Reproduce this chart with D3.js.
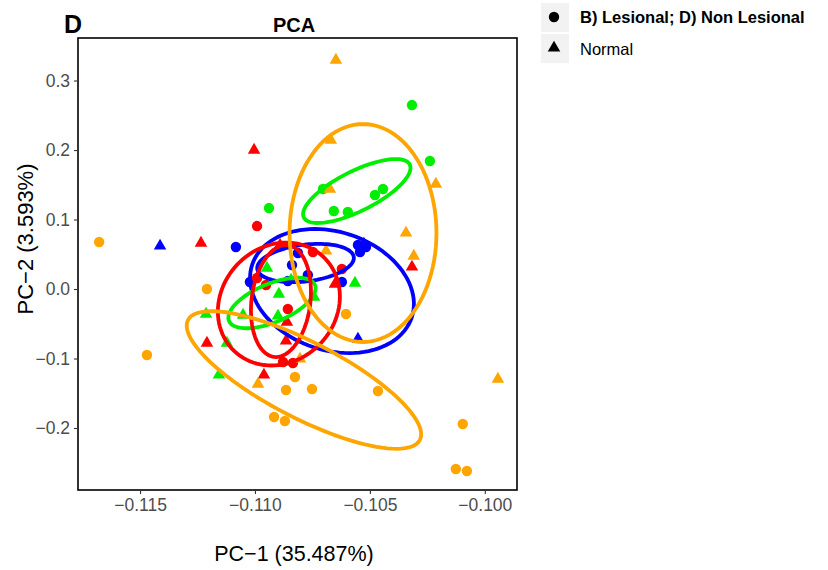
<!DOCTYPE html>
<html>
<head>
<meta charset="utf-8">
<script src="https://cdn.jsdelivr.net/npm/d3@7"></script>
<style>
  html, body { margin: 0; padding: 0; background: #fff; }
  svg { display: block; font-family: "Liberation Sans", Arial, Helvetica, sans-serif; }
</style>
</head>
<body>
<svg id="chart" width="828" height="570"></svg>
<script>
// ---- Data ----
const xTicks = [-0.115, -0.110, -0.105, -0.100];
const yTicks = [-0.2, -0.1, 0.0, 0.1, 0.2, 0.3];
const xTitle = "PC\u22121 (35.487%)";
const yTitle = "PC\u22122 (3.593%)";
const legendLabels = ["B) Lesional; D) Non Lesional", "Normal"];

const groupNames  = ["blue", "green", "red", "orange"];
const groupColors = ["#0000FF", "#00EE00", "#FF0000", "#FFA500"];

// circles = Lesional / Non Lesional ; triangles = Normal
const blueCircles = [[-0.11083,0.0604],[-0.11022,0.0101],[-0.10552,0.0633],[-0.10543,0.0532],[-0.10517,0.0604],[-0.10622,0.0101],[-0.10770,0.0201],[-0.10857,0.0115],[-0.10813,0.0518],[-0.10839,0.0345]];
const blueTriangles = [[-0.11413,0.0619],[-0.10552,-0.0719],[-0.10526,0.0647]];
const greenCircles = [[-0.10317,0.2647],[-0.10239,0.1842],[-0.10704,0.1439],[-0.10443,0.1439],[-0.10478,0.1353],[-0.10657,0.1122],[-0.10596,0.1108],[-0.10939,0.1165]];
const greenTriangles = [[-0.11213,-0.0360],[-0.11122,-0.0777],[-0.11157,-0.1237],[-0.11052,-0.0374],[-0.10900,-0.0388],[-0.10896,-0.0072],[-0.10948,0.0302],[-0.10565,0.0086],[-0.10743,-0.0115],[-0.10843,0.0129]];
const redCircles = [[-0.10991,0.0906],[-0.10991,0.0158],[-0.10952,0.0058],[-0.10857,-0.0288],[-0.10878,-0.1050],[-0.10835,-0.1065],[-0.10622,0.0288],[-0.10748,0.0532]];
const redTriangles = [[-0.11004,0.2000],[-0.11235,0.0662],[-0.11209,-0.0777],[-0.10961,-0.1237],[-0.10317,0.0317],[-0.10865,-0.0748],[-0.10861,-0.0475],[-0.10652,0.0072],[-0.10891,0.0633]];
const orangeCircles = [[-0.11678,0.0676],[-0.11470,-0.0950],[-0.11209,0.0000],[-0.10604,-0.0360],[-0.10826,-0.1266],[-0.10752,-0.1439],[-0.10865,-0.1453],[-0.10465,-0.1468],[-0.10917,-0.1842],[-0.10870,-0.1899],[-0.10096,-0.1942],[-0.10126,-0.2590],[-0.10078,-0.2619]];
const orangeTriangles = [[-0.10648,0.3295],[-0.10670,0.2144],[-0.10674,0.1439],[-0.10213,0.1511],[-0.10343,0.0806],[-0.10309,0.0475],[-0.10691,0.0547],[-0.10804,-0.1007],[-0.10987,-0.1367],[-0.09943,-0.1295]];

// confidence ellipses: centre + two conjugate semi-axis vectors (data units)
const ellipseGroup = ["blue","blue","green","green","red","red","orange","orange"];
const ellipseCx = [-0.10665,-0.10780,-0.10557,-0.10926,-0.10896,-0.10887,-0.10530,-0.10787];
const ellipseCy = [-0.0029, 0.0374, 0.1410,-0.0201,-0.0216,-0.0173, 0.0806,-0.1309];
const ellipseAx = [ 0.003474, 0.00210, 0.002304, 0.00187, 0.001926, 0.000300, 0.003196, 0.005043];
const ellipseAy = [-0.0377, 0.0085, 0.0381, 0.0259, 0.0682, 0.0804, 0.0, -0.0863];
const ellipseBx = [-0.000800, 0.0000957, 0.000387, 0.000322, 0.001826, 0.00127, 0.0, -0.000761];
const ellipseBy = [-0.0809,-0.0262,-0.02576,-0.0255,-0.0563,-0.0052, 0.1568,-0.0486];

// ---- Layout ----
const svg = d3.select("#chart");
const panel = {left: 78, right: 517, top: 38, bottom: 490};
const x = d3.scaleLinear().domain([-0.1177, -0.0986]).range([panel.left, panel.right]);
const y = d3.scaleLinear().domain([-0.2892, 0.3612]).range([panel.bottom, panel.top]);
const colorOf = d3.scaleOrdinal().domain(groupNames).range(groupColors);

svg.append("rect").attr("width", 828).attr("height", 570).attr("fill", "#fff");

svg.append("clipPath").attr("id", "clip").append("rect")
  .attr("x", panel.left).attr("y", panel.top)
  .attr("width", panel.right - panel.left).attr("height", panel.bottom - panel.top);

const plot = svg.append("g").attr("clip-path", "url(#clip)");

const pointSets = [
  {g: "blue", shape: "circle", pts: blueCircles},
  {g: "blue", shape: "triangle", pts: blueTriangles},
  {g: "green", shape: "circle", pts: greenCircles},
  {g: "green", shape: "triangle", pts: greenTriangles},
  {g: "red", shape: "circle", pts: redCircles},
  {g: "red", shape: "triangle", pts: redTriangles},
  {g: "orange", shape: "circle", pts: orangeCircles},
  {g: "orange", shape: "triangle", pts: orangeTriangles}
];

const circleSym = d3.symbol().type(d3.symbolCircle).size(85);
const triSym = d3.symbol().type(d3.symbolTriangle).size(68);

pointSets.forEach(set => {
  plot.append("g").selectAll("path").data(set.pts).join("path")
    .attr("d", set.shape === "circle" ? circleSym : triSym)
    .attr("transform", d => `translate(${x(d[0])},${y(d[1])})`)
    .attr("fill", colorOf(set.g));
});

// ellipses
const ts = d3.range(0, 100).map(i => i / 100 * 2 * Math.PI);
const line = d3.line().x(p => x(p[0])).y(p => y(p[1])).curve(d3.curveLinearClosed);
ellipseGroup.forEach((g, i) => {
  const pts = ts.map(t => [
    ellipseCx[i] + Math.cos(t) * ellipseAx[i] + Math.sin(t) * ellipseBx[i],
    ellipseCy[i] + Math.cos(t) * ellipseAy[i] + Math.sin(t) * ellipseBy[i]
  ]);
  plot.append("path").attr("d", line(pts))
    .attr("fill", "none").attr("stroke", colorOf(g)).attr("stroke-width", 3.8);
});

// panel border
svg.append("rect")
  .attr("x", panel.left).attr("y", panel.top)
  .attr("width", panel.right - panel.left).attr("height", panel.bottom - panel.top)
  .attr("fill", "none").attr("stroke", "#000").attr("stroke-width", 1.6);

// axes
const xAxis = svg.append("g").attr("transform", `translate(0,${panel.bottom})`)
  .call(d3.axisBottom(x).tickValues(xTicks).tickFormat(d3.format(".3f")).tickSize(4).tickPadding(5));
const yAxis = svg.append("g").attr("transform", `translate(${panel.left},0)`)
  .call(d3.axisLeft(y).tickValues(yTicks).tickFormat(d3.format(".1f")).tickSize(4).tickPadding(4));
[xAxis, yAxis].forEach(a => {
  a.select(".domain").remove();
  a.selectAll(".tick line").attr("stroke", "#333").attr("stroke-width", 1.1);
  a.selectAll(".tick text").attr("fill", "#4D4D4D").style("font-size", "17.5px")
    .style("font-family", "'Liberation Sans', Arial, sans-serif");
});

// titles
svg.append("text").attr("x", 64).attr("y", 33).text("D")
  .style("font-size", "25px").style("font-weight", "bold");
svg.append("text").attr("x", 294).attr("y", 32).attr("text-anchor", "middle").text("PCA")
  .style("font-size", "20px").style("font-weight", "bold");
svg.append("text").attr("x", 294).attr("y", 561).attr("text-anchor", "middle").text(xTitle)
  .style("font-size", "21.5px");
svg.append("text").attr("transform", "translate(33,239) rotate(-90)").attr("text-anchor", "middle").text(yTitle)
  .style("font-size", "22px");

// legend
const leg = svg.append("g");
legendLabels.forEach((lab, i) => {
  const ky = 3 + i * 31;
  leg.append("rect").attr("x", 541).attr("y", ky).attr("width", 28).attr("height", 29).attr("fill", "#F2F2F2");
  leg.append("path").attr("d", (i === 0 ? circleSym : triSym)())
    .attr("transform", `translate(554,${ky + 14})`).attr("fill", "#000");
  leg.append("text").attr("x", 580).attr("y", ky + 20 + i).text(lab)
    .style("font-size", "16.5px").style("font-weight", i === 0 ? "bold" : "normal");
});
</script>
</body>
</html>
